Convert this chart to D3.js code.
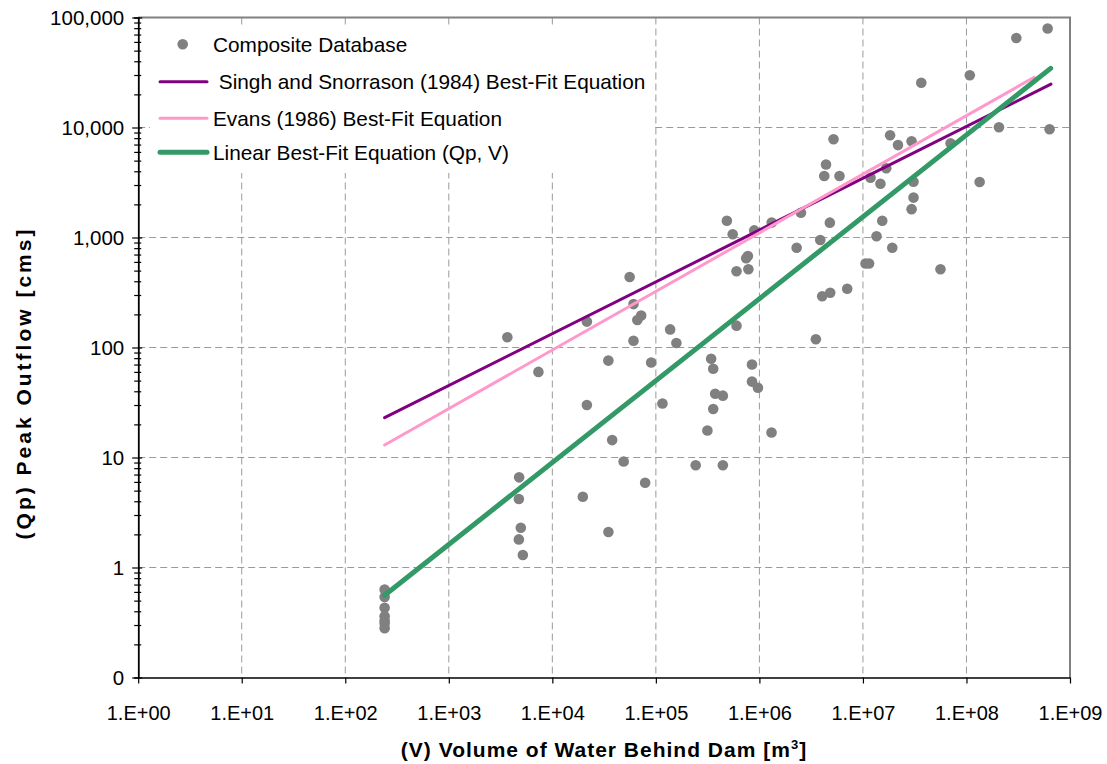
<!DOCTYPE html>
<html>
<head>
<meta charset="utf-8">
<script src="https://cdn.jsdelivr.net/npm/d3@7"></script>
<style>
  html, body { margin: 0; padding: 0; background: #ffffff; }
  svg { display: block; font-family: "Liberation Sans", Arial, sans-serif; }
</style>
</head>
<body>
<svg id="chart" width="1107" height="764"></svg>
<script>
// ---------- DATA ----------
const volumes = [240, 240, 240, 240, 240, 240, 240, 3675, 4780, 4750, 4960, 4750, 5190, 7340,
  19700, 21550, 21550, 34760, 34800, 37840, 48860, 55800, 60800, 72100, 66200, 60800, 78800,
  90100, 115800, 137400, 157800, 242500, 314600, 342000, 358000, 358000, 374000, 443700, 443700,
  485300, 552000, 601000, 601000, 774000, 745000, 783000, 848000, 848000, 968000, 891000,
  1315000, 1310000, 2290000, 2520000, 3510000, 3870000, 4040000, 4230000, 4400000, 4790000,
  4830000, 5200000, 5940000, 7050000, 10600000, 11460000, 11840000, 13530000, 14760000,
  15370000, 16800000, 18300000, 19200000, 21800000, 29500000, 29500000, 30800000, 30800000,
  36600000, 56100000, 70200000, 107700000, 134000000, 206000000, 303000000, 608000000, 635000000];
const peakOutflows = [0.63, 0.54, 0.43, 0.36, 0.33, 0.31, 0.28, 124, 6.6, 4.2, 2.3, 1.8, 1.3, 60,
  4.4, 172, 30, 76, 2.1, 14.4, 9.2, 437, 248, 195, 178, 115, 5.9,
  73, 31, 146, 110, 8.5, 17.6, 79, 64, 27.6, 38, 36.5, 8.5,
  1420, 1070, 494, 158, 679, 647, 514, 70, 49, 43, 1160,
  1370, 16.9, 806, 1680, 119, 949, 292, 3620, 4610, 1364,
  315, 7810, 3620, 342, 580, 580, 3490, 1025, 3080,
  1420, 4260, 8510, 806, 6920, 7510, 1810, 3210, 2305,
  25550, 514, 7180, 29880, 3200, 10040, 65100, 79400, 9630];

const singhV = [240, 6.55e8];
const singhQ = [23.0, 24800];
const evansV = [240, 4.5e8];
const evansQ = [13.0, 28600];
const linearV = [240, 6.5e8];
const linearQ = [0.56, 34500];

const xTickValues = [1, 1e1, 1e2, 1e3, 1e4, 1e5, 1e6, 1e7, 1e8, 1e9];
const xTickLabels = ["1.E+00", "1.E+01", "1.E+02", "1.E+03", "1.E+04", "1.E+05", "1.E+06", "1.E+07", "1.E+08", "1.E+09"];
const yTickValues = [0.1, 1, 10, 100, 1000, 10000, 100000];
const yTickLabels = ["0", "1", "10", "100", "1,000", "10,000", "100,000"];

const legendLabels = ["Composite Database", " Singh and Snorrason (1984) Best-Fit Equation",
  "Evans (1986) Best-Fit Equation", "Linear Best-Fit Equation (Qp, V)"];
const colors = { points: "#808080", singh: "#800080", evans: "#FF99CC", linear: "#339966" };

// ---------- LAYOUT ----------
const L = 138.2, R = 1070, T = 17.5, B = 677.5;
const svg = d3.select("#chart");
svg.append("rect").attr("width", 1107).attr("height", 764).attr("fill", "#fff");

const x = d3.scaleLog().domain([1, 1e9]).range([L, R]);
const y = d3.scaleLog().domain([0.1, 1e5]).range([B, T]);

function minors(lo, hi) {
  const out = [];
  for (let e = lo; e < hi; e++) for (let m = 2; m <= 9; m++) out.push(m * Math.pow(10, e));
  return out;
}
const xMinor = minors(0, 9);
const yMinor = minors(-1, 5);

// gridlines
const grid = svg.append("g").attr("stroke", "#9a9a9a").attr("stroke-width", 1).attr("stroke-dasharray", "7,4");
grid.selectAll("line.v").data(xTickValues.slice(1, -1)).join("line")
  .attr("x1", d => x(d)).attr("x2", d => x(d)).attr("y1", T).attr("y2", B);
grid.selectAll("line.h").data(yTickValues.slice(1, -1)).join("line")
  .attr("y1", d => y(d)).attr("y2", d => y(d)).attr("x1", L).attr("x2", R);

// top & right border
svg.append("path").attr("d", `M${L},${T}H${R}V${B}`).attr("fill", "none")
  .attr("stroke", "#808080").attr("stroke-width", 2);

// lines
const lineGen = d3.line().x(d => x(d[0])).y(d => y(d[1]));
function drawLine(V, Q, color, w) {
  svg.append("path").datum(V.map((v, i) => [v, Q[i]])).attr("d", lineGen)
    .attr("fill", "none").attr("stroke", color).attr("stroke-width", w).attr("stroke-linecap", "round");
}

// points
svg.append("g").selectAll("circle").data(volumes.map((v, i) => [v, peakOutflows[i]])).join("circle")
  .attr("cx", d => x(d[0])).attr("cy", d => y(d[1])).attr("r", 5.3).attr("fill", colors.points);

drawLine(singhV, singhQ, colors.singh, 3);
drawLine(evansV, evansQ, colors.evans, 3);
drawLine(linearV, linearQ, colors.linear, 5);

// x axis
const gx = svg.append("g").attr("transform", `translate(0,${B})`);
gx.call(d3.axisBottom(x).tickValues(xMinor).tickSize(4).tickFormat(""));
gx.call(d3.axisBottom(x).tickValues(xTickValues).tickSize(6).tickSizeOuter(0)
  .tickFormat((d, i) => xTickLabels[i]));
gx.selectAll(".domain").attr("stroke", "#000").attr("stroke-width", 1.5);
gx.selectAll(".tick line").attr("stroke", "#000").attr("stroke-width", 1.2);
gx.selectAll(".tick text").attr("font-size", 20).attr("fill", "#000")
  .attr("font-family", "Liberation Sans, Arial, sans-serif").attr("y", 42).attr("dy", "0");

// y axis
const gy = svg.append("g").attr("transform", `translate(${L},0)`);
gy.call(d3.axisLeft(y).tickValues(yMinor).tickSize(4).tickFormat(""));
gy.selectAll(".tick line").attr("x1", 3);
const gy2 = svg.append("g").attr("transform", `translate(${L},0)`);
gy2.call(d3.axisLeft(y).tickValues(yTickValues).tickSize(6).tickSizeOuter(0)
  .tickFormat((d, i) => yTickLabels[i]));
gy2.selectAll(".tick line").attr("x1", 4);
[gy, gy2].forEach(g => {
  g.selectAll(".domain").attr("stroke", "#000").attr("stroke-width", 1.5);
  g.selectAll(".tick line").attr("stroke", "#000").attr("stroke-width", 1.2);
});
gy2.selectAll(".tick text").attr("font-size", 20.5).attr("fill", "#000")
  .attr("font-family", "Liberation Sans, Arial, sans-serif").attr("x", -14);

// axis titles
const xt = svg.append("text").attr("x", 604).attr("y", 757).attr("text-anchor", "middle")
  .attr("font-size", 21).attr("font-weight", "bold").attr("letter-spacing", 1).attr("fill", "#000");
xt.append("tspan").text("(V) Volume of Water Behind Dam [m");
xt.append("tspan").text("3").attr("font-size", 13).attr("dy", -8);
xt.append("tspan").text("]").attr("dy", 8);

svg.append("text").attr("transform", "translate(31,383) rotate(-90)").attr("text-anchor", "middle")
  .attr("font-size", 21).attr("font-weight", "bold").attr("letter-spacing", 3).attr("fill", "#000")
  .text("(Qp) Peak Outflow [cms]");

// legend
const lg = svg.append("g");
lg.append("rect").attr("x", 150).attr("y", 27).attr("width", 503).attr("height", 146).attr("fill", "#fff");
const legY = [44.3, 81.7, 118.3, 152.3];
lg.append("circle").attr("cx", 182.7).attr("cy", legY[0]).attr("r", 5.3).attr("fill", colors.points);
[[colors.singh, 3], [colors.evans, 3], [colors.linear, 5]].forEach((c, i) => {
  lg.append("line").attr("x1", 160).attr("x2", 207).attr("y1", legY[i + 1]).attr("y2", legY[i + 1])
    .attr("stroke", c[0]).attr("stroke-width", c[1]).attr("stroke-linecap", "round");
});
lg.selectAll("text").data(legendLabels).join("text")
  .attr("x", 213).attr("y", (d, i) => legY[i]).attr("dy", "0.35em")
  .attr("font-size", 20.8).attr("fill", "#000").style("white-space", "pre").text(d => d);
</script>
</body>
</html>
